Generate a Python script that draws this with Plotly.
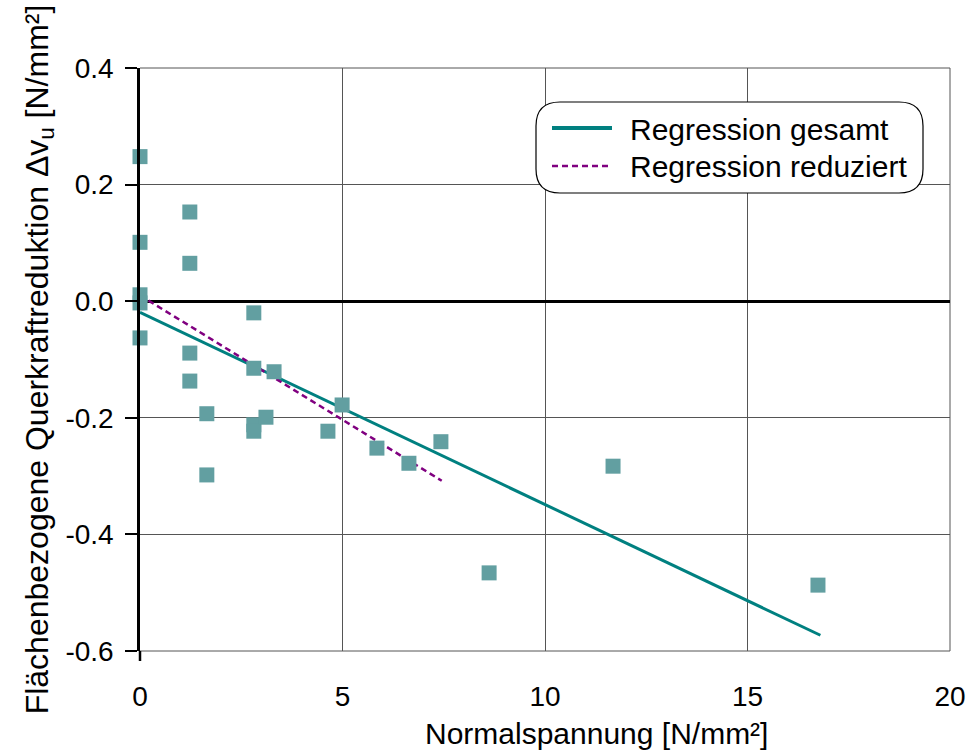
import plotly.graph_objects as go

# Measured points: normal stress vs. area-related shear force reduction
sigma_n = [0.0, 0.0, 0.0, 0.0, 0.0,
           1.23, 1.23, 1.23, 1.23, 1.65, 1.65,
           2.81, 2.81, 2.81, 2.81, 3.11, 3.31,
           4.64, 4.99, 5.85, 6.64, 7.43, 8.62, 11.68, 16.74]
delta_vu = [0.248, 0.101, 0.011, -0.003, -0.063,
            0.153, 0.065, -0.089, -0.137, -0.193, -0.298,
            -0.020, -0.115, -0.212, -0.223, -0.199, -0.121,
            -0.223, -0.178, -0.252, -0.278, -0.241, -0.466, -0.283, -0.487]

# Regression lines (end points)
reg_total_x = [0.0, 16.8]
reg_total_y = [-0.019, -0.573]
reg_reduced_x = [0.0, 7.45]
reg_reduced_y = [0.010, -0.308]

legend_labels = ["Regression gesamt", "Regression reduziert"]

x_ticks = [0, 5, 10, 15, 20]
y_ticks = [0.4, 0.2, 0.0, -0.2, -0.4, -0.6]
y_ticktext = ["0.4", "0.2", "0.0", "-0.2", "-0.4", "-0.6"]

W, H = 970, 751
ML, MR, MT, MB = 140, 20, 68, 100
PW, PH = W - ML - MR, H - MT - MB

FONT = "Liberation Sans, Arial, sans-serif"
TEAL = "#008080"
PURPLE = "#800080"
MARK = "#629FA1"
GRID = "#555555"


def px(x):
    return (x - ML) / PW


def py(y):
    return (H - MB - y) / PH


fig = go.Figure()
fig.add_trace(go.Scatter(
    x=reg_total_x, y=reg_total_y, mode="lines",
    line=dict(color=TEAL, width=3), name=legend_labels[0], showlegend=False))
fig.add_trace(go.Scatter(
    x=reg_reduced_x, y=reg_reduced_y, mode="lines",
    line=dict(color=PURPLE, width=2.5, dash="6px,4px"), name=legend_labels[1],
    showlegend=False))
fig.add_trace(go.Scatter(
    x=sigma_n, y=delta_vu, mode="markers",
    marker=dict(symbol="square", size=15, color=MARK, line=dict(width=0)),
    showlegend=False, cliponaxis=False))

shapes = []
# frame: top, right, bottom
for (x0, y0, x1, y1) in [(0, 1, 1, 1), (1, 0, 1, 1), (0, 0, 1, 0)]:
    shapes.append(dict(type="line", xref="paper", yref="paper",
                       x0=x0, y0=y0, x1=x1, y1=y1,
                       line=dict(color=GRID, width=1), layer="below"))
# y-axis line stub below the plot
shapes.append(dict(type="line", xref="paper", yref="paper",
                   x0=0, y0=0, x1=0, y1=-10 / PH,
                   line=dict(color="black", width=2.5)))

# rounded legend box
lx0, lx1, ly0, ly1, r = 536, 923, 102, 193, 24
X0, X1 = px(lx0), px(lx1)
Ytop, Ybot = py(ly0), py(ly1)
rx, ry = r / PW, r / PH
path = (f"M {X0 + rx} {Ytop} L {X1 - rx} {Ytop} Q {X1} {Ytop} {X1} {Ytop - ry} "
        f"L {X1} {Ybot + ry} Q {X1} {Ybot} {X1 - rx} {Ybot} "
        f"L {X0 + rx} {Ybot} Q {X0} {Ybot} {X0} {Ybot + ry} "
        f"L {X0} {Ytop - ry} Q {X0} {Ytop} {X0 + rx} {Ytop} Z")
shapes.append(dict(type="path", xref="paper", yref="paper", path=path,
                   fillcolor="white", line=dict(color="black", width=1.2)))
# legend samples
shapes.append(dict(type="line", xref="paper", yref="paper",
                   x0=px(552), x1=px(612), y0=py(128), y1=py(128),
                   line=dict(color=TEAL, width=4)))
shapes.append(dict(type="line", xref="paper", yref="paper",
                   x0=px(552), x1=px(612), y0=py(166), y1=py(166),
                   line=dict(color=PURPLE, width=2.5, dash="6px,4px")))

annotations = [
    dict(xref="paper", yref="paper", x=px(628), y=py(130), text=legend_labels[0],
         showarrow=False, xanchor="left", yanchor="middle",
         font=dict(family=FONT, size=30, color="black")),
    dict(xref="paper", yref="paper", x=px(628), y=py(167), text=legend_labels[1],
         showarrow=False, xanchor="left", yanchor="middle",
         font=dict(family=FONT, size=30, color="black")),
    # x-axis title
    dict(xref="paper", yref="paper", x=px(596), y=py(733), text="Normalspannung [N/mm²]",
         showarrow=False, xanchor="center", yanchor="middle",
         font=dict(family=FONT, size=30, color="black")),
]

fig.update_layout(
    width=W, height=H,
    margin=dict(l=ML, r=MR, t=MT, b=MB),
    paper_bgcolor="white", plot_bgcolor="white",
    font=dict(family=FONT, size=28, color="black"),
    shapes=shapes, annotations=annotations,
    xaxis=dict(
        range=[0, 20], tickvals=x_ticks, showgrid=True, gridcolor=GRID, gridwidth=1,
        zeroline=False, showline=False, ticks="", ticklabelstandoff=26,
        automargin=False,
        tickfont=dict(family=FONT, size=28),
    ),
    yaxis=dict(
        range=[-0.6, 0.4], tickvals=y_ticks, ticktext=y_ticktext,
        showgrid=True, gridcolor=GRID, gridwidth=1,
        zeroline=True, zerolinecolor="black", zerolinewidth=2.5,
        showline=True, linecolor="black", linewidth=2.5,
        ticks="outside", ticklen=12, tickwidth=1.5, tickcolor="black",
        ticklabelstandoff=6, automargin=False,
        tickfont=dict(family=FONT, size=28),
        title=dict(text="Flächenbezogene Querkraftreduktion Δv<sub>u</sub> [N/mm²]",
                   standoff=8, font=dict(family=FONT, size=32)),
    ),
)

fig.write_html("out.html")
